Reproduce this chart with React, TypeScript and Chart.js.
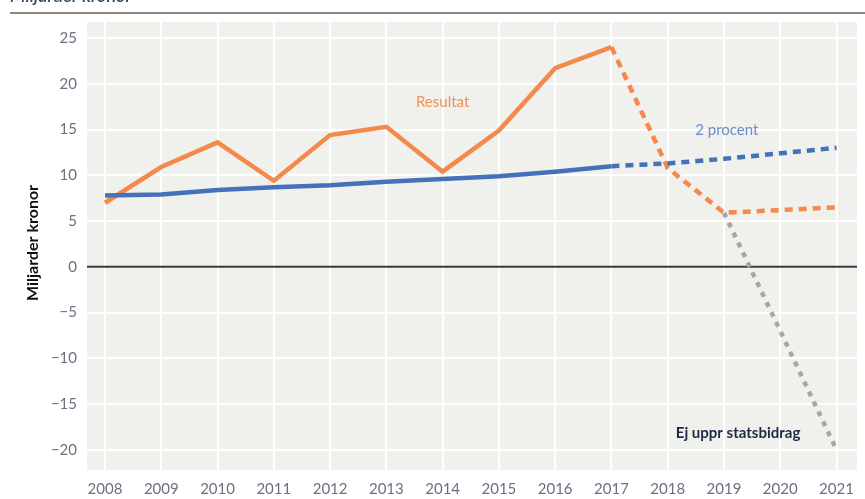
import React, { useEffect, useRef } from "react";
import { Chart, registerables } from "chart.js";

Chart.register(...registerables);

const years = [2008, 2009, 2010, 2011, 2012, 2013, 2014, 2015, 2016, 2017, 2018, 2019, 2020, 2021];
const resultat = [7.0, 10.9, 13.6, 9.4, 14.4, 15.3, 10.4, 14.9, 21.7, 24.0, null, null, null, null];
const resultatPrognos = [null, null, null, null, null, null, null, null, null, 24.0, 10.8, 5.9, 6.2, 6.5];
const tvaProcent = [7.8, 7.9, 8.4, 8.7, 8.9, 9.3, 9.6, 9.9, 10.4, 11.0, null, null, null, null];
const tvaProcentPrognos = [null, null, null, null, null, null, null, null, null, 11.0, 11.3, 11.8, 12.4, 13.0];
const ejUppr = [null, null, null, null, null, null, null, null, null, null, null, 5.9, -7.0, -20.0];

const yTicks = [-20, -15, -10, -5, 0, 5, 10, 15, 20, 25];

const FONT = "Lato, 'Open Sans', sans-serif";

function pts(vals: (number | null)[]) {
  const out: { x: number; y: number }[] = [];
  vals.forEach((v, i) => {
    if (v !== null) out.push({ x: years[i], y: v });
  });
  return out;
}

const decor = {
  id: "decor",
  beforeDraw(chart: any) {
    const { ctx, chartArea: a } = chart;
    ctx.save();
    ctx.fillStyle = "#f0f0ec";
    ctx.fillRect(a.left, a.top, a.right - a.left, a.bottom - a.top);
    ctx.restore();
  },
  beforeDatasetsDraw(chart: any) {
    const { ctx, chartArea: a, scales } = chart;
    const y0 = scales.y.getPixelForValue(0);
    ctx.save();
    ctx.strokeStyle = "#3a3a3a";
    ctx.lineWidth = 2;
    ctx.beginPath();
    ctx.moveTo(a.left, y0);
    ctx.lineTo(a.right, y0);
    ctx.stroke();
    ctx.restore();
  },
  afterDraw(chart: any) {
    const { ctx, scales } = chart;
    ctx.save();
    // top rule and cut-off heading
    ctx.strokeStyle = "#8f8578";
    ctx.lineWidth = 2;
    ctx.beginPath();
    ctx.moveTo(10, 13);
    ctx.lineTo(865, 13);
    ctx.stroke();
    ctx.fillStyle = "#3c465a";
    ctx.font = `italic 600 18px ${FONT}`;
    ctx.textAlign = "left";
    ctx.textBaseline = "alphabetic";
    ctx.fillText("Miljarder kronor", 10, 2);

    // y-axis title
    ctx.save();
    ctx.translate(33, 243);
    ctx.rotate(-Math.PI / 2);
    ctx.fillStyle = "#111111";
    ctx.font = `bold 16px ${FONT}`;
    ctx.textAlign = "center";
    ctx.textBaseline = "middle";
    ctx.fillText("Miljarder kronor", 0, 0);
    ctx.restore();

    ctx.textAlign = "center";
    ctx.textBaseline = "middle";
    ctx.font = `15px ${FONT}`;
    ctx.fillStyle = "#F0915A";
    ctx.fillText("Resultat", scales.x.getPixelForValue(2014), scales.y.getPixelForValue(18));
    ctx.fillStyle = "#6A8CCB";
    ctx.fillText("2 procent", scales.x.getPixelForValue(2019.05), scales.y.getPixelForValue(14.95));
    ctx.fillStyle = "#1E2A45";
    ctx.font = `bold 15px ${FONT}`;
    ctx.fillText("Ej uppr statsbidrag", scales.x.getPixelForValue(2019.25), scales.y.getPixelForValue(-18.2));
    ctx.restore();
  },
};

export default function App() {
  const ref = useRef<HTMLCanvasElement | null>(null);
  useEffect(() => {
    document.body.style.margin = "0";
    const chart = new Chart(ref.current as HTMLCanvasElement, {
      type: "line",
      data: {
        datasets: [
          { data: pts(ejUppr), borderColor: "#A6A6A6", borderWidth: 4.5, borderDash: [5, 6], pointRadius: 0, fill: false },
          { data: pts(tvaProcentPrognos), borderColor: "#4571B8", borderWidth: 4.5, borderDash: [8, 6], pointRadius: 0, fill: false },
          { data: pts(tvaProcent), borderColor: "#4571B8", borderWidth: 4.5, pointRadius: 0, fill: false },
          { data: pts(resultatPrognos), borderColor: "#F4894B", borderWidth: 4.5, borderDash: [8, 6], pointRadius: 0, fill: false },
          { data: pts(resultat), borderColor: "#F4894B", borderWidth: 4.5, pointRadius: 0, fill: false },
        ],
      },
      options: {
        animation: false,
        responsive: true,
        maintainAspectRatio: false,
        layout: { padding: { top: 22, right: 8, left: 0, bottom: 0 } },
        plugins: { legend: { display: false }, tooltip: { enabled: false } },
        scales: {
          x: {
            type: "linear",
            min: 2007.68,
            max: 2021.364,
            afterFit: (s: any) => { s.height = 29; },
            border: { display: false },
            grid: { color: "#ffffff", lineWidth: 2, drawTicks: false },
            ticks: {
              stepSize: 1,
              includeBounds: false,
              padding: 10,
              color: "#6b7080",
              font: { family: FONT, size: 15 },
              maxRotation: 0,
              autoSkip: false,
              callback: (v: any) => String(v),
            },
          },
          y: {
            type: "linear",
            min: -22.2,
            max: 26.75,
            afterFit: (s: any) => { s.width = 87; },
            afterBuildTicks: (s: any) => { s.ticks = yTicks.map((v) => ({ value: v })); },
            border: { display: false },
            grid: { color: "#ffffff", lineWidth: 2, drawTicks: false },
            ticks: {
              padding: 10,
              color: "#6b7080",
              font: { family: FONT, size: 15 },
              callback: (v: any) => (v < 0 ? "\u2212" + Math.abs(v) : String(v)),
            },
          },
        },
      },
      plugins: [decor],
    } as any);
    return () => chart.destroy();
  }, []);
  return (
    <div style={{ position: "relative", width: 865, height: 499 }}>
      <canvas ref={ref} />
    </div>
  );
}
